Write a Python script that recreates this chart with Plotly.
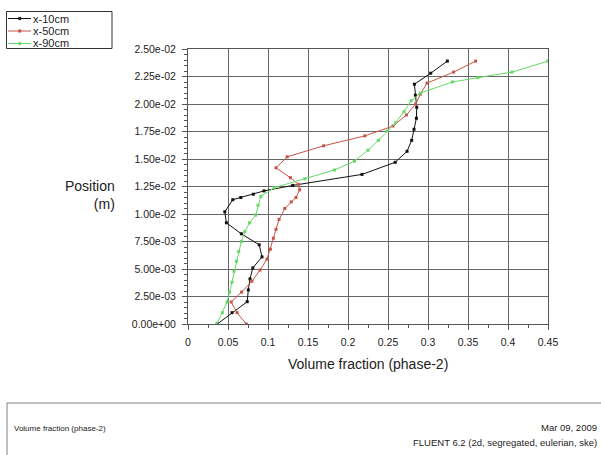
import plotly.graph_objects as go

# x-10cm
x10_vf = [0.0367, 0.055, 0.074, 0.0754, 0.0775, 0.081, 0.0925, 0.089, 0.0667, 0.048, 0.046,
          0.056, 0.066, 0.0817, 0.095, 0.131, 0.2175, 0.259, 0.2738, 0.2796, 0.2825, 0.2855,
          0.2859, 0.2842, 0.283, 0.3034, 0.3242]
x10_pos = [0.0, 0.00103, 0.00203, 0.0031, 0.0041, 0.0051, 0.0061, 0.0072, 0.0082, 0.0092, 0.0102,
           0.0113, 0.0115, 0.0118, 0.0121, 0.0126, 0.0136, 0.0147, 0.0157, 0.0167, 0.0177, 0.0187,
           0.0197, 0.0208, 0.0218, 0.0228, 0.0239]

# x-50cm
x50_vf = [0.0729, 0.0613, 0.054, 0.067, 0.080, 0.090, 0.0988, 0.103, 0.1067, 0.110, 0.1138,
          0.121, 0.129, 0.135, 0.1396, 0.138, 0.128, 0.110, 0.124, 0.1696, 0.221, 0.2563,
          0.273, 0.2846, 0.2905, 0.2988, 0.332, 0.3596]
x50_pos = [0.0, 0.00103, 0.0020, 0.0029, 0.0039, 0.0049, 0.0059, 0.0068, 0.0078, 0.0086, 0.0095,
           0.0105, 0.0111, 0.0115, 0.0122, 0.0127, 0.0133, 0.0142, 0.0152, 0.0162, 0.0171, 0.018,
           0.019, 0.020, 0.0209, 0.0219, 0.0229, 0.0239]

# x-90cm
x90_vf = [0.036, 0.043, 0.0488, 0.052, 0.055, 0.0575, 0.0605, 0.0634, 0.0667, 0.071, 0.077,
          0.0846, 0.0875, 0.091, 0.108, 0.146, 0.183, 0.208, 0.225, 0.238, 0.2488, 0.2596,
          0.27, 0.279, 0.2905, 0.3305, 0.3625, 0.405, 0.45]
x90_pos = [0.0, 0.00103, 0.002, 0.0029, 0.0038, 0.0048, 0.0057, 0.0066, 0.0075, 0.0084, 0.0092,
           0.0099, 0.0108, 0.0116, 0.0124, 0.0132, 0.014, 0.0148, 0.0158, 0.0167, 0.01755, 0.0183,
           0.0193, 0.0203, 0.021, 0.022, 0.0224, 0.0229, 0.0239]

series_names = ["x-10cm", "x-50cm", "x-90cm"]
series_colors = ["#111111", "#c45548", "#66d866"]

x_tickvals = [0, 0.05, 0.1, 0.15, 0.2, 0.25, 0.3, 0.35, 0.4, 0.45]
x_ticktext = ["0", "0.05", "0.1", "0.15", "0.2", "0.25", "0.3", "0.35", "0.4", "0.45"]
y_tickvals = [0, 0.0025, 0.005, 0.0075, 0.01, 0.0125, 0.015, 0.0175, 0.02, 0.0225, 0.025]
y_ticktext = ["0.00e+00", "2.50e-03", "5.00e-03", "7.50e-03", "1.00e-02", "1.25e-02",
              "1.50e-02", "1.75e-02", "2.00e-02", "2.25e-02", "2.50e-02"]

FONT = "Liberation Sans, Arial, sans-serif"

fig = go.Figure()
for name, xs, ys, col in zip(series_names, [x10_vf, x50_vf, x90_vf],
                             [x10_pos, x50_pos, x90_pos], series_colors):
    fig.add_trace(go.Scatter(x=xs, y=ys, mode="lines+markers", name=name,
                             line=dict(color=col, width=1),
                             marker=dict(color=col, size=3, symbol="square"),
                             cliponaxis=True, showlegend=False))

L, R, T, B = 188, 53, 49, 131
W, H = 601, 455
pw, ph = W - L - R, H - T - B

def px(xp):
    return (xp - L) / pw

def py(yp):
    return (H - B - yp) / ph

axis_common = dict(showgrid=True, gridcolor="#666666", gridwidth=1.3, showline=True,
                   linecolor="#555555", linewidth=1, mirror=True, zeroline=False,
                   ticks="outside", ticklen=5, tickcolor="#555555", automargin=False,
                   tickfont=dict(family=FONT, size=10.5, color="#222222"))

fig.update_layout(
    width=W, height=H,
    margin=dict(l=L, r=R, t=T, b=B, autoexpand=False),
    paper_bgcolor="white", plot_bgcolor="white",
    font=dict(family=FONT, color="#222222"),
    showlegend=False,
    xaxis=dict(range=[0, 0.45], tickvals=x_tickvals, ticktext=x_ticktext,
               ticklabelstandoff=3,
               minor=dict(dtick=0.025, ticks="outside", ticklen=3, tickcolor="#555555",
                          showgrid=False),
               **axis_common),
    yaxis=dict(range=[0, 0.025], tickvals=y_tickvals, ticktext=y_ticktext,
               ticklabelstandoff=4,
               minor=dict(dtick=0.0005, ticks="outside", ticklen=3, tickcolor="#555555",
                          showgrid=False),
               **axis_common),
)

# legend box (drawn manually to match the compact original)
fig.add_shape(type="rect", xref="paper", yref="paper",
              x0=px(6.5), x1=px(112), y0=py(11.5), y1=py(48.5),
              line=dict(color="#333333", width=1), fillcolor="white")
for i, (name, col) in enumerate(zip(series_names, series_colors)):
    yrow = 18.5 + 12.5 * i
    fig.add_shape(type="line", xref="paper", yref="paper",
                  x0=px(8), x1=px(31), y0=py(yrow), y1=py(yrow),
                  line=dict(color=col, width=1))
    fig.add_shape(type="rect", xref="paper", yref="paper",
                  x0=px(18.5), x1=px(21), y0=py(yrow - 1.25), y1=py(yrow + 1.25),
                  line=dict(color=col, width=0.5), fillcolor=col)
    fig.add_annotation(text=name, xref="paper", yref="paper",
                       x=px(31), y=py(yrow), xanchor="left", yanchor="middle",
                       showarrow=False, font=dict(family=FONT, size=11, color="#222222"))

fig.add_annotation(text="Position<br>(m)", xref="paper", yref="paper",
                   x=px(117), y=py(195), xanchor="right", yanchor="middle",
                   align="right", showarrow=False,
                   font=dict(family=FONT, size=14, color="#222222"))
fig.add_annotation(text="Volume fraction (phase-2)", xref="paper", yref="paper",
                   x=0.5, y=py(364), xanchor="center", yanchor="middle",
                   showarrow=False, font=dict(family=FONT, size=14, color="#222222"))

# bottom info box
fig.add_shape(type="rect", xref="paper", yref="paper",
              x0=px(7), x1=px(620), y0=py(403), y1=py(470),
              line=dict(color="#808080", width=1), fillcolor="rgba(0,0,0,0)")
fig.add_annotation(text="Volume fraction (phase-2)", xref="paper", yref="paper",
                   x=px(12), y=py(428), xanchor="left", yanchor="middle",
                   showarrow=False, font=dict(family=FONT, size=8, color="#222222"))
fig.add_annotation(text="Mar 09, 2009", xref="paper", yref="paper",
                   x=px(599), y=py(427), xanchor="right", yanchor="middle",
                   showarrow=False, font=dict(family=FONT, size=9.5, color="#222222"))
fig.add_annotation(text="FLUENT 6.2 (2d, segregated, eulerian, ske)", xref="paper", yref="paper",
                   x=px(599), y=py(442), xanchor="right", yanchor="middle",
                   showarrow=False, font=dict(family=FONT, size=9.5, color="#222222"))

fig.write_html("out.html", config={"displayModeBar": False},
               post_script="document.body.style.margin='0';document.body.style.overflow='hidden';")
